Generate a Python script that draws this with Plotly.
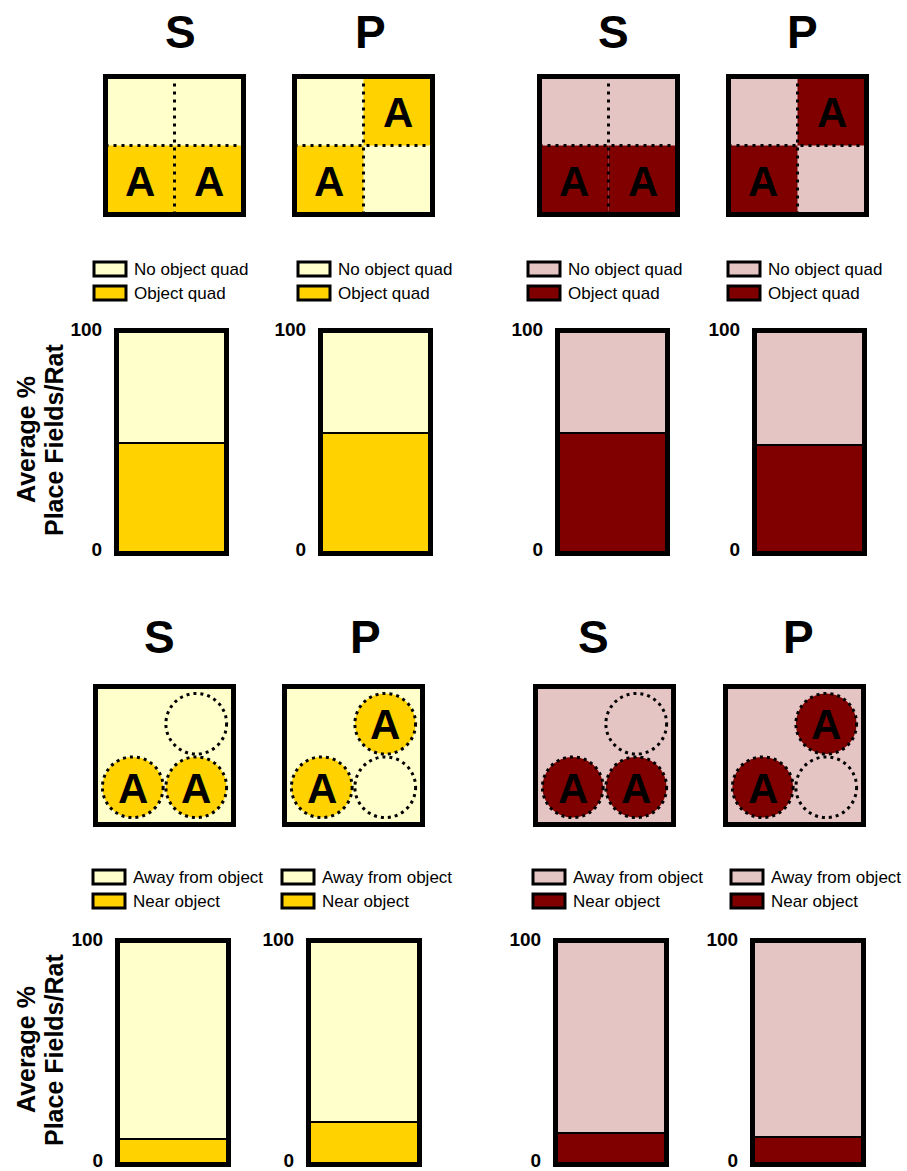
import plotly.graph_objects as go

# data
conditions = ["S", "P", "S", "P"]
quad_labels = ["No object quad", "Object quad"]
zone_labels = ["Away from object", "Near object"]
quad_object_pct = [49.5, 54.0, 54.0, 48.5]   # % place fields in object quadrants
zone_near_pct = [10.8, 18.6, 13.5, 11.7]     # % place fields near objects
y_ticks = [0, 100]
y_title_lines = ["Average %", "Place Fields/Rat"]

light_colors = ["#FFFFCC", "#FFFFCC", "#E5C4C4", "#E5C4C4"]
dark_colors = ["#FFD200", "#FFD200", "#800000", "#800000"]

# schematic layouts (which quadrants / circles hold an object)
quad_objects = {"S": [(0, 0), (1, 0)], "P": [(0, 0), (1, 1)]}
circle_spots = [(0.27, 0.27), (0.73, 0.27), (0.73, 0.73)]
circle_objects = {"S": [0, 1], "P": [0, 2]}

W, H = 907, 1171
FONT = "Arial, Liberation Sans, sans-serif"

rows = [
    dict(kind="quad", labels=quad_labels, values=quad_object_pct,
         title_x=[180, 370, 613, 802], title_y=32,
         diag_x=[103, 292, 537, 726], diag_y=(74, 217),
         leg_x=[94, 298, 528, 728], leg_y=(269, 293),
         bar_x=[114, 318, 555, 752], bar_w=115, bar_y=(328, 556), ytitle_y=440),
    dict(kind="circle", labels=zone_labels, values=zone_near_pct,
         title_x=[159, 365, 593, 798], title_y=637,
         diag_x=[93, 282, 533, 723], diag_y=(684, 827),
         leg_x=[93, 282, 533, 731], leg_y=(877, 901),
         bar_x=[115, 306, 553, 750], bar_w=116, bar_y=(938, 1167), ytitle_y=1050),
]


def fx(x):
    return x / W


def fy(y):
    return 1 - y / H


fig = go.Figure()
layout = {}
shapes = []
annotations = []
ax = 0

for r, row in enumerate(rows):
    for c, cond in enumerate(conditions):
        light, dark = light_colors[c], dark_colors[c]

        # ---- stacked bar ----
        ax += 1
        sfx = "" if ax == 1 else str(ax)
        x0 = row["bar_x"][c]
        t, b = row["bar_y"]
        layout["xaxis" + sfx] = dict(
            domain=[fx(x0 + 4), fx(x0 + row["bar_w"] - 4)], range=[-0.5, 0.5],
            showline=True, linewidth=4, linecolor="black", mirror=True,
            showticklabels=False, showgrid=False, zeroline=False, fixedrange=True,
            automargin=False, anchor="y" + sfx)
        layout["yaxis" + sfx] = dict(
            domain=[fy(b - 4), fy(t + 4)], range=[0, 100],
            tickvals=y_ticks, ticktext=[str(v) for v in y_ticks],
            tickfont=dict(family=FONT, size=19, color="black", weight="bold"),
            ticklabelstandoff=8, ticklabelshift=-3, ticklabeloverflow="allow",
            showline=True, linewidth=4, linecolor="black", mirror=True,
            ticks="", showgrid=False, zeroline=False, fixedrange=True,
            automargin=False, anchor="x" + sfx)
        near = row["values"][c]
        fig.add_trace(go.Bar(x=[0], y=[near], width=1, name=row["labels"][1],
                             marker=dict(color=dark, line=dict(color="black", width=2)),
                             xaxis="x" + sfx, yaxis="y" + sfx, showlegend=False))
        fig.add_trace(go.Bar(x=[0], y=[100 - near], width=1, name=row["labels"][0],
                             marker=dict(color=light, line=dict(color="black", width=2)),
                             xaxis="x" + sfx, yaxis="y" + sfx, showlegend=False))

        # ---- legend ----
        lx = row["leg_x"][c]
        for ly, lab, col in zip(row["leg_y"], row["labels"], [light, dark]):
            shapes.append(dict(type="rect", xref="paper", yref="paper",
                               x0=fx(lx), x1=fx(lx + 32), y0=fy(ly + 7), y1=fy(ly - 7),
                               fillcolor=col, line=dict(color="black", width=3)))
            annotations.append(dict(text=lab, xref="paper", yref="paper",
                                    x=fx(lx + 38), y=fy(ly), xanchor="left", yanchor="middle",
                                    showarrow=False,
                                    font=dict(family=FONT, size=17, color="black")))

        # ---- title ----
        annotations.append(dict(text=cond, xref="paper", yref="paper",
                                x=fx(row["title_x"][c]), y=fy(row["title_y"]),
                                xanchor="center", yanchor="middle", showarrow=False,
                                font=dict(family=FONT, size=46, color="black", weight="bold")))

        # ---- schematic ----
        dn = 8 + ax
        dsfx = str(dn)
        dx0 = row["diag_x"][c]
        dt, db = row["diag_y"]
        layout["xaxis" + dsfx] = dict(domain=[fx(dx0 + 2.5), fx(dx0 + 143 - 2.5)],
                                      range=[0, 1], visible=False, fixedrange=True,
                                      automargin=False, anchor="y" + dsfx)
        layout["yaxis" + dsfx] = dict(domain=[fy(db - 2.5), fy(dt + 2.5)],
                                      range=[0, 1], visible=False, fixedrange=True,
                                      automargin=False, anchor="x" + dsfx)
        xr, yr = "x" + dsfx, "y" + dsfx
        shapes.append(dict(type="rect", xref=xr, yref=yr, x0=0, x1=1, y0=0, y1=1,
                           fillcolor=light, line=dict(width=0), layer="above"))
        if row["kind"] == "quad":
            for qx, qy in quad_objects[cond]:
                shapes.append(dict(type="rect", xref=xr, yref=yr,
                                   x0=qx * 0.5, x1=qx * 0.5 + 0.5, y0=qy * 0.5, y1=qy * 0.5 + 0.5,
                                   fillcolor=dark, line=dict(width=0), layer="above"))
                annotations.append(dict(text="A", xref=xr, yref=yr,
                                        x=qx * 0.5 + 0.25, y=qy * 0.5 + 0.25,
                                        showarrow=False, yshift=-1,
                                        font=dict(family=FONT, size=42, color="black",
                                                  weight="bold")))
            shapes.append(dict(type="line", xref=xr, yref=yr, x0=0.5, x1=0.5, y0=0, y1=1,
                               line=dict(color="black", width=3, dash="3px,5px"), layer="above"))
            shapes.append(dict(type="line", xref=xr, yref=yr, x0=0, x1=1, y0=0.5, y1=0.5,
                               line=dict(color="black", width=3, dash="3px,5px"), layer="above"))
        else:
            rad = 0.22
            for k, (cx, cy) in enumerate(circle_spots):
                filled = k in circle_objects[cond]
                shapes.append(dict(type="circle", xref=xr, yref=yr,
                                   x0=cx - rad, x1=cx + rad, y0=cy - rad, y1=cy + rad,
                                   fillcolor=dark if filled else light,
                                   line=dict(color="black", width=3, dash="3px,4px"),
                                   layer="above"))
                if filled:
                    annotations.append(dict(text="A", xref=xr, yref=yr, x=cx, y=cy,
                                            showarrow=False, yshift=-1,
                                            font=dict(family=FONT, size=42, color="black",
                                                      weight="bold")))
        shapes.append(dict(type="rect", xref=xr + " domain", yref=yr + " domain",
                           x0=0, x1=1, y0=0, y1=1, fillcolor="rgba(0,0,0,0)",
                           line=dict(color="black", width=5), layer="above"))

    # y-axis title for the row (two lines, rotated)
    for line_x, line_text in zip([26, 54], y_title_lines):
        annotations.append(dict(text=line_text, xref="paper", yref="paper",
                                x=fx(line_x), y=fy(row["ytitle_y"]), textangle=-90,
                                xanchor="center", yanchor="middle", showarrow=False,
                                font=dict(family=FONT, size=25, color="black",
                                          weight="bold")))

fig.update_layout(**layout)
fig.update_layout(
    width=W, height=H, margin=dict(l=0, r=0, t=0, b=0, autoexpand=False),
    barmode="stack", plot_bgcolor="white", paper_bgcolor="white",
    shapes=shapes, annotations=annotations, showlegend=False,
)

# drop the browser's default 8px body margin so the figure fills the window
fig.write_html("out.html", config={"displayModeBar": False},
               post_script="document.body.style.margin = '0';")
